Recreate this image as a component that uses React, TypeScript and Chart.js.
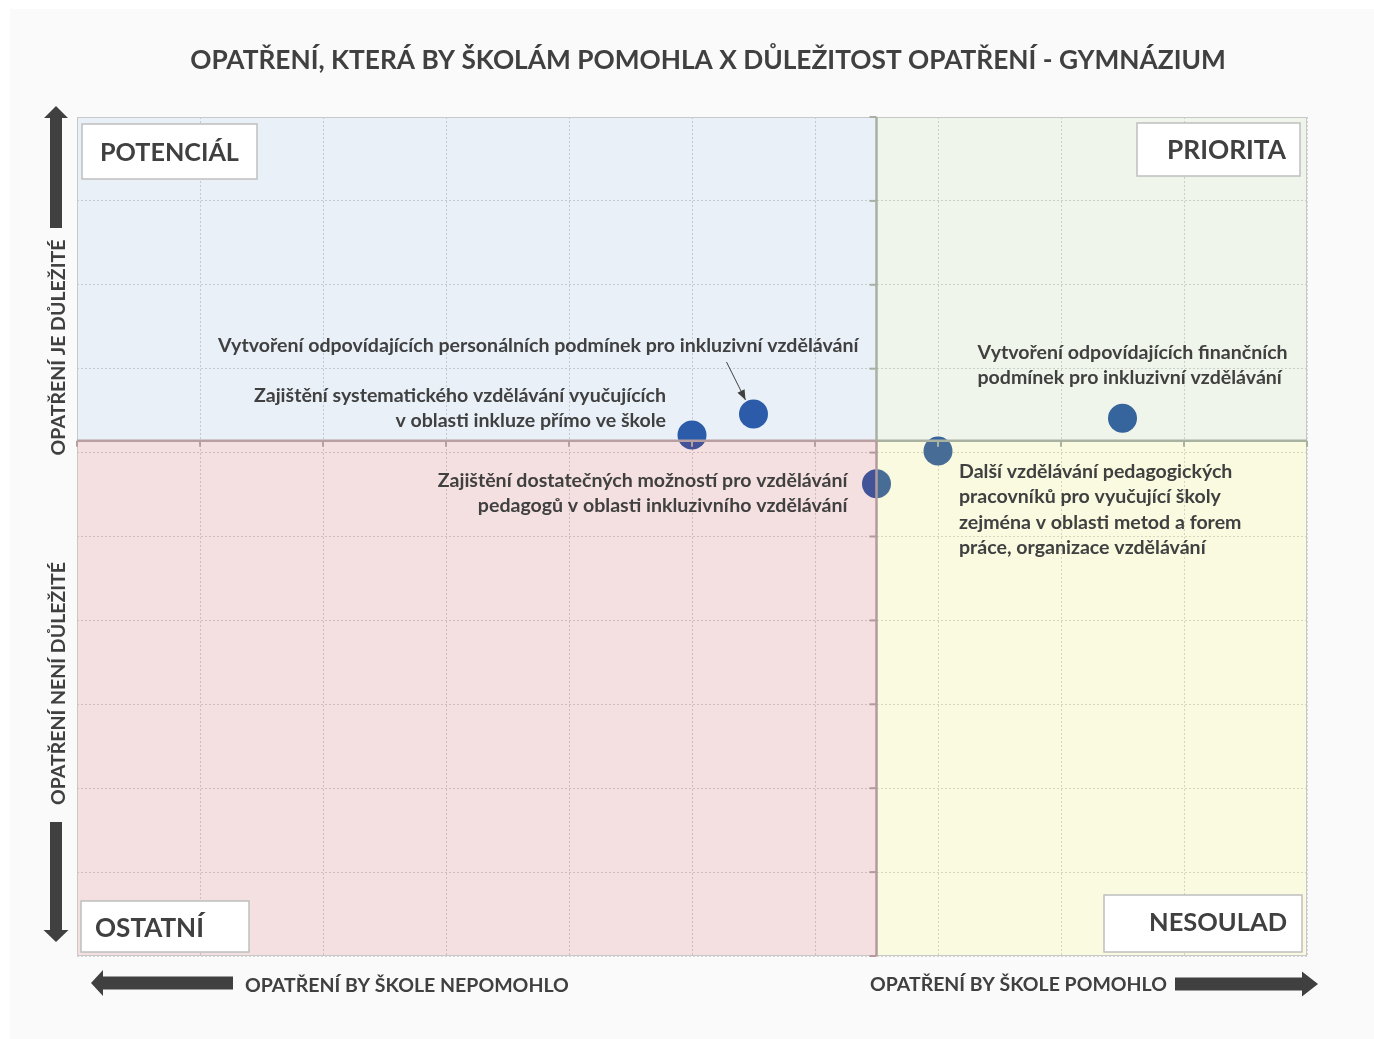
import React, { useEffect, useRef } from "react";
import { Chart, registerables } from "chart.js";

Chart.register(...registerables);

// ---------------- DATA ----------------
const chartTitle = "OPATŘENÍ, KTERÁ BY ŠKOLÁM POMOHLA X DŮLEŽITOST OPATŘENÍ - GYMNÁZIUM";

const measureNames = [
  "Vytvoření odpovídajících personálních podmínek pro inkluzivní vzdělávání",
  "Zajištění systematického vzdělávání vyučujících v oblasti inkluze přímo ve škole",
  "Zajištění dostatečných možností pro vzdělávání pedagogů v oblasti inkluzivního vzdělávání",
  "Další vzdělávání pedagogických pracovníků pro vyučující školy zejména v oblasti metod a forem práce, organizace vzdělávání",
  "Vytvoření odpovídajících finančních podmínek pro inkluzivní vzdělávání",
];

// x: would help the school, y: importance
const helpValues = [5.5, 5.0, 6.5, 7.0, 8.5];
const importanceValues = [6.46, 6.21, 5.63, 6.02, 6.41];

const annotationLines = [
  ["Vytvoření odpovídajících personálních podmínek pro inkluzivní vzdělávání"],
  ["Zajištění systematického vzdělávání vyučujících", "v oblasti inkluze přímo ve škole"],
  ["Zajištění dostatečných možností pro vzdělávání", "pedagogů v oblasti inkluzivního vzdělávání"],
  [
    "Další vzdělávání pedagogických",
    "pracovníků pro vyučující školy",
    "zejména v oblasti metod a forem",
    "práce, organizace vzdělávání",
  ],
  ["Vytvoření odpovídajících finančních", "podmínek pro inkluzivní vzdělávání"],
];

const xDividerValue = 6.5;
const yDividerValue = 6.14;
const axisMin = 0;
const axisMax = 10;
const axisStep = 1;

const quadrantNames = ["POTENCIÁL", "PRIORITA", "OSTATNÍ", "NESOULAD"];
const yAxisTexts = ["OPATŘENÍ JE DŮLEŽITÉ", "OPATŘENÍ NENÍ DŮLEŽITÉ"];
const xAxisTexts = ["OPATŘENÍ BY ŠKOLE NEPOMOHLO", "OPATŘENÍ BY ŠKOLE POMOHLO"];

// ---------------- STYLE / LAYOUT ----------------
const W = 1374;
const H = 1039;
const FONT = "Lato";
const TEXT = "#404040";

const annotationLayout = [
  { align: "right", dx: 105, dys: [-62] },
  { align: "right", dx: -26, dys: [-33, -8] },
  { align: "right", dx: -29, dys: [3, 28] },
  { align: "left", dx: 21, dys: [27, 52.5, 78, 103.5] },
  { align: "left", dx: -145, dys: [-59, -34] },
];

function fitSize(ctx: CanvasRenderingContext2D, text: string, weight: string, target: number) {
  ctx.font = `${weight} 100px ${FONT}`;
  const w = ctx.measureText(text).width;
  return (100 * target) / w;
}

function capText(
  ctx: CanvasRenderingContext2D,
  text: string,
  x: number,
  capCenterY: number,
  size: number,
  align: CanvasTextAlign,
  weight = "bold"
) {
  ctx.font = `${weight} ${size}px ${FONT}`;
  const capH = ctx.measureText("H").actualBoundingBoxAscent;
  ctx.textAlign = align;
  ctx.textBaseline = "alphabetic";
  ctx.fillStyle = TEXT;
  ctx.fillText(text, x, capCenterY + capH / 2);
}

function blockArrow(
  ctx: CanvasRenderingContext2D,
  tipX: number,
  tipY: number,
  dir: "up" | "down" | "left" | "right",
  length: number,
  shaftW: number,
  headLen: number,
  headW: number
) {
  ctx.save();
  ctx.translate(tipX, tipY);
  const rot = { right: 0, down: Math.PI / 2, left: Math.PI, up: -Math.PI / 2 }[dir];
  ctx.rotate(rot);
  ctx.beginPath();
  ctx.moveTo(0, 0);
  ctx.lineTo(-headLen, -headW / 2);
  ctx.lineTo(-headLen, -shaftW / 2);
  ctx.lineTo(-length, -shaftW / 2);
  ctx.lineTo(-length, shaftW / 2);
  ctx.lineTo(-headLen, shaftW / 2);
  ctx.lineTo(-headLen, headW / 2);
  ctx.closePath();
  ctx.fillStyle = TEXT;
  ctx.fill();
  ctx.restore();
}

function labelBox(
  ctx: CanvasRenderingContext2D,
  x1: number,
  y1: number,
  x2: number,
  y2: number
) {
  ctx.save();
  ctx.fillStyle = "#FFFFFF";
  ctx.fillRect(x1, y1, x2 - x1, y2 - y1);
  ctx.strokeStyle = "#BFBFBF";
  ctx.lineWidth = 1.5;
  ctx.strokeRect(x1, y1, x2 - x1, y2 - y1);
  ctx.restore();
}

const quadrantPlugin = {
  id: "quadrants",
  beforeDraw(chart: any) {
    const { ctx, chartArea: a } = chart;
    ctx.save();
    ctx.fillStyle = "#FFFFFF";
    ctx.fillRect(0, 0, W, H);
    ctx.fillStyle = "#FAFAFA";
    ctx.fillRect(10, 9, W - 10, H - 9);
    ctx.fillStyle = "#FFFFFF";
    ctx.fillRect(a.left, a.top, a.right - a.left, a.bottom - a.top);
    ctx.restore();
  },
  afterDatasetsDraw(chart: any) {
    const { ctx, chartArea: a, scales } = chart;
    const xd = scales.x.getPixelForValue(xDividerValue);
    const yd = scales.y.getPixelForValue(yDividerValue);
    ctx.save();
    // translucent quadrant tints over everything drawn so far
    ctx.fillStyle = "rgba(35,105,185,0.10)";
    ctx.fillRect(a.left, a.top, xd - a.left, yd - a.top);
    ctx.fillStyle = "rgba(122,172,80,0.12)";
    ctx.fillRect(xd, a.top, a.right - xd, yd - a.top);
    ctx.fillStyle = "rgba(188,48,55,0.15)";
    ctx.fillRect(a.left, yd, xd - a.left, a.bottom - yd);
    ctx.fillStyle = "rgba(222,222,55,0.15)";
    ctx.fillRect(xd, yd, a.right - xd, a.bottom - yd);

    // outer border
    ctx.strokeStyle = "#C8C8C8";
    ctx.lineWidth = 1;
    ctx.strokeRect(a.left + 0.5, a.top + 0.5, a.right - a.left - 1, a.bottom - a.top - 1);

    // crossing axes with tick marks
    ctx.lineWidth = 2.5;
    ctx.strokeStyle = "#B89FA2";
    ctx.beginPath();
    ctx.moveTo(a.left, yd);
    ctx.lineTo(xd, yd);
    ctx.stroke();
    ctx.strokeStyle = "#A9B2A1";
    ctx.beginPath();
    ctx.moveTo(xd, yd);
    ctx.lineTo(a.right, yd);
    ctx.stroke();
    ctx.strokeStyle = "#A8B0A4";
    ctx.beginPath();
    ctx.moveTo(xd, a.top);
    ctx.lineTo(xd, yd);
    ctx.stroke();
    ctx.strokeStyle = "#B49A9E";
    ctx.beginPath();
    ctx.moveTo(xd, yd);
    ctx.lineTo(xd, a.bottom);
    ctx.stroke();

    ctx.lineWidth = 2;
    for (let v = axisMin; v <= axisMax; v += axisStep) {
      const px = scales.x.getPixelForValue(v);
      ctx.strokeStyle = px < xd ? "#B89FA2" : "#A9B2A1";
      ctx.beginPath();
      ctx.moveTo(px, yd);
      ctx.lineTo(px, yd + 6);
      ctx.stroke();
      const py = scales.y.getPixelForValue(v);
      ctx.strokeStyle = py < yd ? "#A8B0A4" : "#B49A9E";
      ctx.beginPath();
      ctx.moveTo(xd - 7, py);
      ctx.lineTo(xd, py);
      ctx.stroke();
    }
    ctx.restore();
  },
  afterDraw(chart: any) {
    const { ctx, scales } = chart;
    ctx.save();

    // title
    const ts = fitSize(ctx, chartTitle, "bold", 1036);
    capText(ctx, chartTitle, 708, 59, ts, "center");

    // quadrant label boxes
    labelBox(ctx, 82, 124, 257, 179);
    labelBox(ctx, 1137, 123, 1300, 176);
    labelBox(ctx, 81, 901, 249, 952);
    labelBox(ctx, 1104, 895, 1302, 952);
    const q0 = fitSize(ctx, quadrantNames[0], "bold", 139);
    capText(ctx, quadrantNames[0], 100, 151.5, q0, "left");
    const q1 = fitSize(ctx, quadrantNames[1], "bold", 119);
    capText(ctx, quadrantNames[1], 1286, 149, q1, "right");
    const q2 = fitSize(ctx, quadrantNames[2], "bold", 109);
    capText(ctx, quadrantNames[2], 95, 927, q2, "left");
    const q3 = fitSize(ctx, quadrantNames[3], "bold", 138);
    capText(ctx, quadrantNames[3], 1287, 922, q3, "right");

    // y-axis side labels
    const ySizes = [216, 243];
    const yCenters = [347.5, 683.5];
    yAxisTexts.forEach((t, i) => {
      const s = fitSize(ctx, t, "bold", ySizes[i]);
      ctx.save();
      ctx.translate(57.5, yCenters[i]);
      ctx.rotate(-Math.PI / 2);
      capText(ctx, t, 0, 0, s, "center");
      ctx.restore();
    });

    // x-axis side labels
    const xl = fitSize(ctx, xAxisTexts[0], "bold", 324);
    capText(ctx, xAxisTexts[0], 245, 984.5, xl, "left");
    const xr = fitSize(ctx, xAxisTexts[1], "bold", 297);
    capText(ctx, xAxisTexts[1], 870, 983.5, xr, "left");

    // block arrows
    blockArrow(ctx, 56, 106, "up", 122, 12, 12, 24);
    blockArrow(ctx, 56, 942, "down", 120, 12, 12, 25);
    blockArrow(ctx, 91, 983, "left", 142, 13, 12, 26);
    blockArrow(ctx, 1318, 984, "right", 143, 13, 16, 25);

    // annotations next to points
    const annSize = fitSize(ctx, annotationLines[0][0], "bold", 641);
    ctx.font = `bold ${annSize}px ${FONT}`;
    ctx.fillStyle = TEXT;
    ctx.textBaseline = "alphabetic";
    annotationLines.forEach((lines, i) => {
      const px = scales.x.getPixelForValue(helpValues[i]);
      const py = scales.y.getPixelForValue(importanceValues[i]);
      const lay = annotationLayout[i];
      ctx.textAlign = lay.align as CanvasTextAlign;
      lines.forEach((ln, j) => {
        ctx.fillText(ln, px + lay.dx, py + lay.dys[j]);
      });
    });

    // leader arrow for the first annotation
    const p0x = scales.x.getPixelForValue(helpValues[0]);
    const p0y = scales.y.getPixelForValue(importanceValues[0]);
    const sx = p0x - 27, sy = p0y - 52, ex = p0x - 8, ey = p0y - 14;
    ctx.strokeStyle = TEXT;
    ctx.lineWidth = 1;
    ctx.beginPath();
    ctx.moveTo(sx, sy);
    ctx.lineTo(ex, ey);
    ctx.stroke();
    const ang = Math.atan2(ey - sy, ex - sx);
    ctx.save();
    ctx.translate(ex, ey);
    ctx.rotate(ang);
    ctx.beginPath();
    ctx.moveTo(0, 0);
    ctx.lineTo(-10, -4);
    ctx.lineTo(-10, 4);
    ctx.closePath();
    ctx.fillStyle = TEXT;
    ctx.fill();
    ctx.restore();

    ctx.restore();
  },
};

export default function App() {
  const ref = useRef<HTMLCanvasElement | null>(null);
  useEffect(() => {
    if (!ref.current) return;
    const points = helpValues.map((x, i) => ({ x, y: importanceValues[i] }));
    const chart = new Chart(ref.current, {
      type: "scatter",
      data: {
        datasets: [
          {
            label: "Opatření",
            data: points,
            backgroundColor: "#2D5AA8",
            borderColor: "#2D5AA8",
            borderWidth: 0,
            pointRadius: 14.5,
            pointHoverRadius: 14.5,
          },
        ],
      },
      options: {
        animation: false,
        responsive: false,
        maintainAspectRatio: false,
        devicePixelRatio: 1,
        layout: { padding: { left: 77, right: W - 1307, top: 117, bottom: H - 956 } },
        plugins: {
          legend: { display: false },
          tooltip: { enabled: false },
          title: { display: false },
        },
        scales: {
          x: {
            type: "linear",
            min: axisMin,
            max: axisMax,
            ticks: { display: false, stepSize: axisStep },
            grid: { color: "#D4D4D4", lineWidth: 1, drawTicks: false },
            border: { display: false, dash: [2, 2] },
          },
          y: {
            type: "linear",
            min: axisMin,
            max: axisMax,
            ticks: { display: false, stepSize: axisStep },
            grid: { color: "#D4D4D4", lineWidth: 1, drawTicks: false },
            border: { display: false, dash: [2, 2] },
          },
        },
      },
      plugins: [quadrantPlugin],
    });
    return () => chart.destroy();
  }, []);
  return (
    <div style={{ position: "absolute", left: 0, top: 0, width: W, height: H }}>
      <canvas ref={ref} width={W} height={H} style={{ display: "block", width: W, height: H }} />
    </div>
  );
}
